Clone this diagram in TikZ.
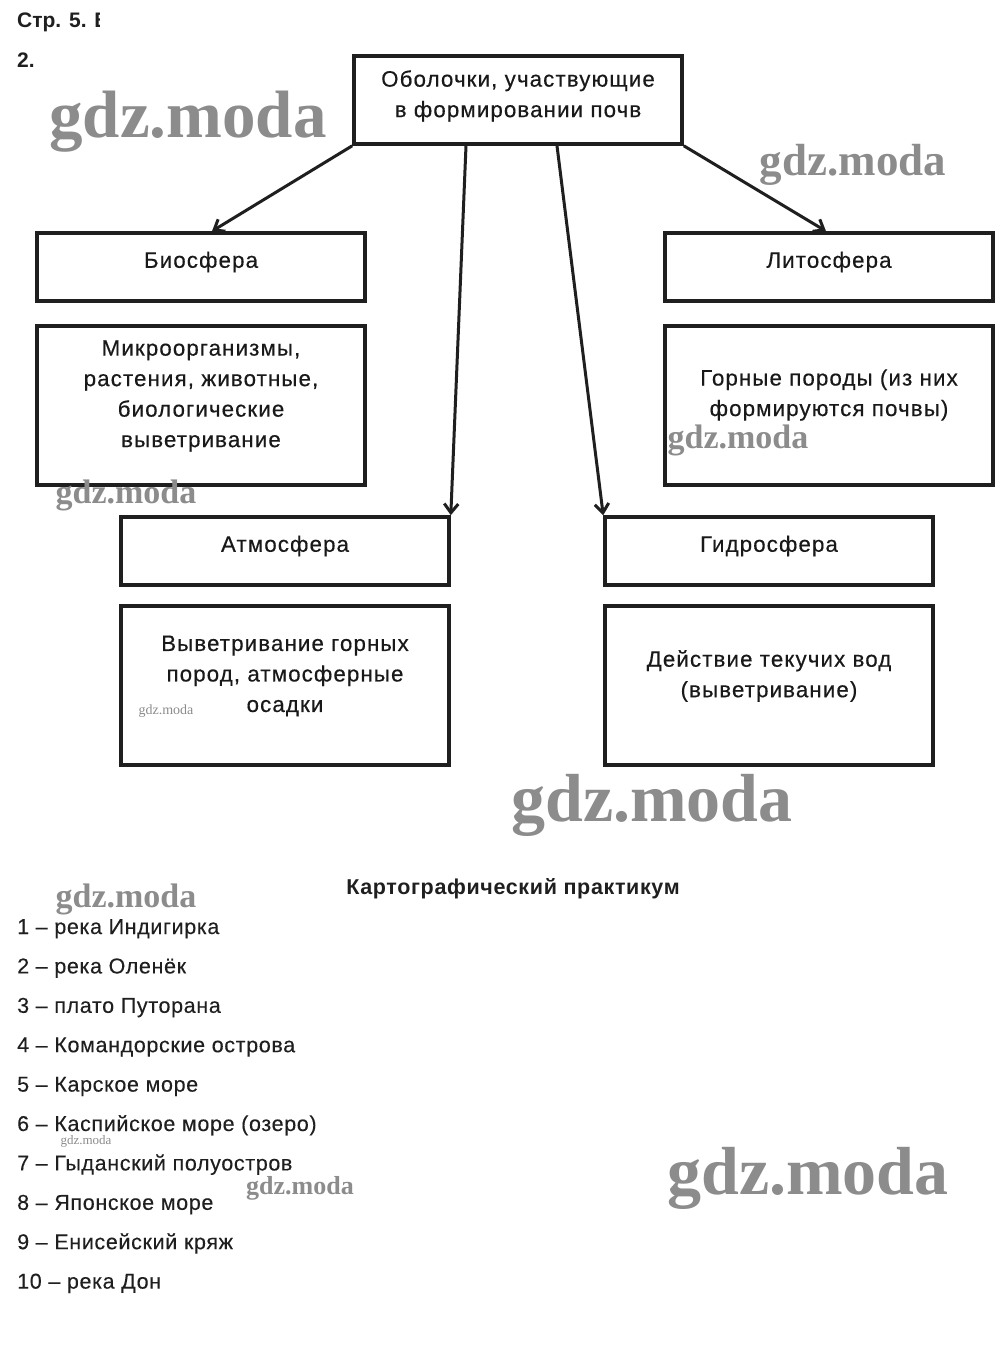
\documentclass[tikz,border=0pt]{standalone}
\usepackage{fontspec}
\setmainfont{Liberation Sans}
\newfontfamily\boxfont[LetterSpace=5,FakeBold=0.4]{Liberation Sans}
\newfontfamily\listfont[LetterSpace=3,FakeBold=0.2]{Liberation Sans}
\newfontfamily\headfont[LetterSpace=3]{Liberation Sans}
\newfontfamily\wmfont{Liberation Serif}
\usetikzlibrary{arrows.meta}
\begin{document}
\begin{tikzpicture}[x=1pt,y=-1pt,
  box/.style={draw=black!88, line width=3.6pt, minimum width=328pt, inner sep=0pt, fill=white},
  small/.style={box, minimum height=68pt},
  big/.style={box, minimum height=159pt},
  txt/.style={align=center, text=black!90, font=\boxfont\fontsize{22.3}{30.5}\selectfont, inner sep=0pt},
  item/.style={anchor=base west, text=black!88, font=\listfont\fontsize{21.5}{24}\selectfont, inner sep=0pt},
  head/.style={text=black!88, font=\headfont\fontsize{21.5}{24}\selectfont\bfseries, inner sep=0pt},
  pagehead/.style={text=black!88, font=\fontsize{21}{24}\selectfont\bfseries, inner sep=0pt},
  arr/.style={draw=black!88, line width=3pt, -{Straight Barb[length=9pt,width=14pt,line width=3pt]}},
  wm/.style={text=black!45, inner sep=0pt}
]
\useasboundingbox (0,0) rectangle (1000,1345);
\fill[white] (0,0) rectangle (1000,1345);

% header
\begin{scope}
  \clip (0,0) rectangle (99,40);
  \node[pagehead, anchor=base west] (page) at (17,27) {Стр. 5. В};
\end{scope}
\node[pagehead, anchor=base west] (num) at (17,67) {2.};

% boxes
\node[box, minimum height=88pt] (top) at (518,100) {};
\node[txt] (toptxt) at (518,96) {Оболочки, участвующие\\в формировании почв};

\node[small] (bio) at (201,267) {};
\node[txt] (biotxt) at (201,262) {Биосфера};
\node[big] (micro) at (201,405.5) {};
\node[txt] (microtxt) at (201,396) {Микроорганизмы,\\растения, животные,\\биологические\\выветривание};

\node[small] (lito) at (829,267) {};
\node[txt] (litotxt) at (829,262) {Литосфера};
\node[big] (rock) at (829,405.5) {};
\node[txt] (rocktxt) at (829,395) {Горные породы (из них\\формируются почвы)};

\node[small] (atmo) at (285,551) {};
\node[txt] (atmotxt) at (285,546) {Атмосфера};
\node[big] (weath) at (285,685.5) {};
\node[txt] (weathtxt) at (285,676) {Выветривание горных\\пород, атмосферные\\осадки};

\node[small] (hydro) at (769,551) {};
\node[txt] (hydrotxt) at (769,546) {Гидросфера};
\node[big] (water) at (769,685.5) {};
\node[txt] (watertxt) at (769,676) {Действие текучих вод\\(выветривание)};

% arrows
\draw[arr] (top.south west) -- ([xshift=11pt]bio.north);
\draw[arr] (top.south east) -- ([xshift=-3pt]lito.north);
\draw[arr] ([xshift=-52pt]top.south) -- (atmo.north east);
\draw[arr] ([xshift=39pt]top.south) -- (hydro.north west);

% practicum
\node[head, anchor=base] (prac) at (513,894) {Картографический практикум};
\node[item] (i1) at (17,934) {1 – река Индигирка};
\node[item] (i2) at (17,973.4) {2 – река Оленёк};
\node[item] (i3) at (17,1012.8) {3 – плато Путорана};
\node[item] (i4) at (17,1052.2) {4 – Командорские острова};
\node[item] (i5) at (17,1091.6) {5 – Карское море};
\node[item] (i6) at (17,1131) {6 – Каспийское море (озеро)};
\node[item] (i7) at (17,1170.4) {7 – Гыданский полуостров};
\node[item] (i8) at (17,1209.8) {8 – Японское море};
\node[item] (i9) at (17,1249.2) {9 – Енисейский кряж};
\node[item] (i10) at (17,1288.6) {10 – река Дон};

% watermarks
\node[wm, font=\wmfont\bfseries\fontsize{67}{67}\selectfont] (wm1) at (188,122) {gdz.moda};
\node[wm, font=\wmfont\bfseries\fontsize{45}{45}\selectfont] (wm2) at (853,165) {gdz.moda};
\node[wm, font=\wmfont\bfseries\fontsize{34}{34}\selectfont] (wm3) at (738,440) {gdz.moda};
\node[wm, font=\wmfont\bfseries\fontsize{34}{34}\selectfont] (wm4) at (126,495) {gdz.moda};
\node[wm, font=\wmfont\fontsize{14}{14}\selectfont] (wm5) at (166,711) {gdz.moda};
\node[wm, font=\wmfont\bfseries\fontsize{68}{68}\selectfont] (wm6) at (652,805) {gdz.moda};
\node[wm, font=\wmfont\bfseries\fontsize{34}{34}\selectfont] (wm7) at (126,899) {gdz.moda};
\node[wm, font=\wmfont\fontsize{13}{13}\selectfont] (wm8) at (86,1141) {gdz.moda};
\node[wm, font=\wmfont\bfseries\fontsize{26}{26}\selectfont] (wm9) at (300,1188) {gdz.moda};
\node[wm, font=\wmfont\bfseries\fontsize{68}{68}\selectfont] (wm10) at (808,1178) {gdz.moda};
\end{tikzpicture}
\end{document}
